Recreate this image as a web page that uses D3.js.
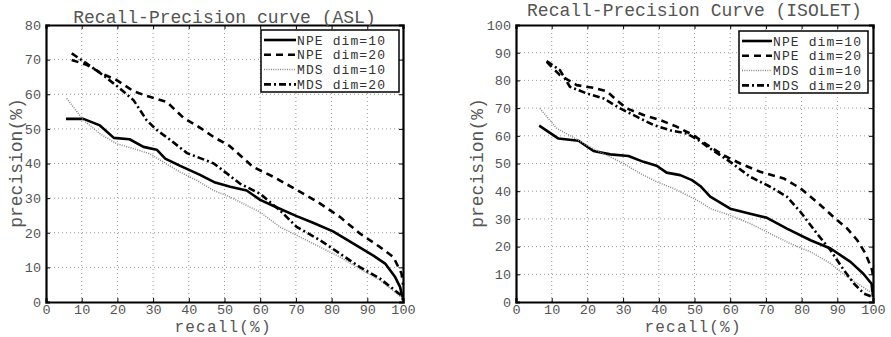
<!DOCTYPE html>
<html><head><meta charset="utf-8">
<script src="https://cdn.jsdelivr.net/npm/d3@7"></script>
<style>body{margin:0;background:#fff}svg{display:block}</style>
</head><body>
<svg id="c" width="891" height="337"></svg>
<script>
const seriesNames = ["NPE dim=10", "NPE dim=20", "MDS dim=10", "MDS dim=20"];
const xTicks = [0,10,20,30,40,50,60,70,80,90,100];
const aslYTicks = [0,10,20,30,40,50,60,70,80];
const isoYTicks = [0,10,20,30,40,50,60,70,80,90,100];

// ASL
const aslNpe10 = [[5.6,52.9],[10.5,52.9],[15.1,51],[19,47.4],[23.4,47],[27.3,44.8],[31,44],[33.4,41.4],[37.6,39.3],[43,36.8],[47.4,34.5],[51.6,33.3],[56.2,32.2],[60,29.5],[63.6,27.8],[70.2,24.8],[74.8,22.9],[80.4,20.4],[86,16.9],[91.7,13.4],[95,11.1],[97.8,7.2],[99.2,4.3],[100,0.5]];
const aslNpe20 = [[7.2,69.9],[11.4,68.5],[16,65.8],[19.8,64.1],[24.5,60.9],[28.2,59.5],[30.6,58.8],[33.8,57.8],[38.5,53.2],[43.2,50.3],[46.9,47.7],[51.5,45],[58,39],[63.6,36.2],[70.2,32.4],[76.7,28.5],[82.3,24.6],[87.9,19.8],[93.5,15.9],[97.3,13],[99.6,8.2],[100,5]];
const aslMds10 = [[5.8,58.8],[10.5,52.5],[15.1,48.6],[19.8,45.7],[24.5,44.3],[29.1,42.8],[32.9,40.4],[37.6,37.5],[42.3,35.1],[47,32.2],[51.6,30.3],[54.3,28.9],[59.9,26],[65.5,21.7],[71.1,18.8],[76.7,15.9],[82.3,13],[87.9,9.6],[93.5,6.3],[100,1]];
const aslMds20 = [[7.2,71.8],[11.4,68.9],[16,65.5],[20.7,61.7],[24.5,58.3],[28.2,52.5],[31,49.7],[34.8,46.8],[39.5,43],[44.1,41.2],[47,40],[50.7,37.1],[54.3,34.2],[59.9,31.3],[65.5,26.5],[70.2,21.7],[76.7,17.9],[82.3,14],[87.9,10.1],[93.5,6.8],[100,1.5]];

// ISOLET
const isoNpe10 = [[6.5,63.7],[11.9,59],[17.5,58.2],[21.7,54.5],[26.4,53.3],[31.5,52.7],[35.7,50.6],[39.4,49.2],[42.2,46.7],[46,45.8],[49.3,44],[51.6,41.9],[54.4,38],[60,33.7],[65.6,31.9],[70.3,30.4],[75.9,26.5],[82.5,22.3],[88.1,19.3],[93.7,14.5],[97.3,10.2],[99.6,6.6],[100,1.8]];
const isoNpe20 = [[8.6,86.7],[12.3,81.9],[17,78.3],[21.7,77.3],[25.4,76.1],[28.2,72.9],[31,69.9],[35.7,67.5],[40.4,65.7],[45,63.3],[49.7,60.2],[54.4,56],[58.1,53],[62.8,50],[68.4,47],[75,44.6],[79.7,41],[84.3,36.1],[90,29.5],[92.8,26.5],[95.6,22.3],[97.9,17.5],[99.8,11.4],[100,9]];
const isoMds10 = [[6.7,69.9],[11.4,62.7],[16.1,59.4],[20.7,56],[25.4,53],[30.1,50],[34.8,46.4],[39.4,43.4],[44.1,41],[48.8,38],[51.6,36.1],[54.4,33.7],[60,31.3],[65.6,28.3],[71.2,24.7],[76.8,21.1],[82.5,18.1],[88.1,13.9],[92.8,9],[96.5,6],[100,3]];
const isoMds20 = [[8.6,87],[12.3,83.7],[15.1,77.7],[19.8,75.3],[24.5,73.5],[29.2,69.9],[33.8,66.9],[38.5,63.9],[43.2,62],[47.9,60.8],[51.1,58.4],[54.4,55.4],[60,50.6],[65.6,45.2],[71.2,41.6],[75.9,38],[79.7,32.5],[84.3,24.7],[88.1,18.7],[91.9,11.4],[94.7,6.6],[97.5,3],[100,1.8]];

const styles = [
  {stroke:"#000", width:2.6, dash:null},
  {stroke:"#000", width:2.6, dash:"7,5"},
  {stroke:"#888", width:1.5, dash:"1,1.3"},
  {stroke:"#000", width:2.6, dash:"7,3,2,3"}
];

const svg = d3.select("#c");
const FONT = '"Liberation Mono","Courier New",Cousine,"DejaVu Sans Mono",monospace';

function drawChart(cfg){
  const g = svg.append("g");
  const x = d3.scaleLinear().domain([0,100]).range([cfg.x0, cfg.x1]);
  const y = d3.scaleLinear().domain([0,cfg.yMax]).range([302, 25]);
  // grid
  g.append("g").selectAll("line").data(xTicks.slice(1,-1)).join("line")
    .attr("x1",d=>x(d)).attr("x2",d=>x(d)).attr("y1",y(0)).attr("y2",y(cfg.yMax))
    .attr("stroke","#999").attr("stroke-width",1).attr("stroke-dasharray","1,3");
  g.append("g").selectAll("line").data(cfg.yTicks.slice(1,-1)).join("line")
    .attr("y1",d=>y(d)).attr("y2",d=>y(d)).attr("x1",x(0)).attr("x2",x(100))
    .attr("stroke","#999").attr("stroke-width",1).attr("stroke-dasharray","1,3");
  // axes
  const ax = g.append("g").attr("transform",`translate(0,${y(0)})`)
    .call(d3.axisBottom(x).tickValues(xTicks).tickSize(-4).tickPadding(3));
  const ay = g.append("g").attr("transform",`translate(${x(0)},0)`)
    .call(d3.axisLeft(y).tickValues(cfg.yTicks).tickSize(-4).tickPadding(5));
  const at = g.append("g").attr("transform",`translate(0,${y(cfg.yMax)})`)
    .call(d3.axisTop(x).tickValues(xTicks).tickSize(-4).tickFormat(""));
  const ar = g.append("g").attr("transform",`translate(${x(100)},0)`)
    .call(d3.axisRight(y).tickValues(cfg.yTicks).tickSize(-4).tickFormat(""));
  [ax,ay,at,ar].forEach(a=>{
    a.attr("font-family",FONT);
    a.select(".domain").attr("stroke","#000").attr("stroke-width",2.2);
    a.selectAll(".tick line").attr("stroke","#000").attr("stroke-width",1);
    a.selectAll("text").style("font-family",FONT).attr("font-size",13.5).attr("fill","#555");
  });
  ax.selectAll("text").attr("y",2);
  // lines
  const line = d3.line().x(d=>x(d[0])).y(d=>y(d[1]));
  cfg.series.forEach((s,i)=>{
    g.append("path").attr("d",line(s)).attr("fill","none")
      .attr("stroke",styles[i].stroke).attr("stroke-width",styles[i].width)
      .attr("stroke-dasharray",styles[i].dash).attr("stroke-linejoin","round");
  });
  // title
  g.append("text").attr("x",(cfg.x0+cfg.x1)/2).attr("y",cfg.titleY).attr("text-anchor","middle")
    .style("font-family",FONT).attr("font-size",18).attr("fill","#555").text(cfg.title);
  g.append("text").attr("x",(cfg.x0+cfg.x1)/2 - 2).attr("y",332).attr("text-anchor","middle")
    .style("font-family",FONT).attr("font-size",16).attr("fill","#555")
    .attr("textLength",96).attr("lengthAdjust","spacing").text("recall(%)");
  g.append("text").attr("transform",`translate(${cfg.ylabX},163) rotate(-90)`).attr("text-anchor","middle")
    .style("font-family",FONT).attr("font-size",18).attr("fill","#555").text("precision(%)");
  // legend
  const L = cfg.legend;
  g.append("rect").attr("x",L.x).attr("y",L.y).attr("width",L.w).attr("height",L.h)
    .attr("fill","#fff").attr("stroke","#000").attr("stroke-width",1.5);
  seriesNames.forEach((n,i)=>{
    const cy = L.y + 10 + i*14.8;
    g.append("line").attr("x1",L.x+3).attr("x2",L.tx-1).attr("y1",cy).attr("y2",cy)
      .attr("stroke",styles[i].stroke).attr("stroke-width",styles[i].width)
      .attr("stroke-dasharray",styles[i].dash);
    g.append("text").attr("x",L.tx).attr("y",cy+4.5).style("font-family",FONT).attr("font-size",13)
      .attr("textLength",88).attr("lengthAdjust","spacing")
      .attr("fill","#333").text(n);
  });
}

drawChart({x0:46,x1:403,yMax:80,yTicks:aslYTicks,title:"Recall-Precision curve (ASL)",titleY:23,ylabX:22,
  series:[aslNpe10,aslNpe20,aslMds10,aslMds20],legend:{x:261,y:30,w:138,h:62,tx:297}});
drawChart({x0:516,x1:873,yMax:100,yTicks:isoYTicks,title:"Recall-Precision Curve (ISOLET)",titleY:16,ylabX:483,
  series:[isoNpe10,isoNpe20,isoMds10,isoMds20],legend:{x:739,y:31,w:129,h:62,tx:773}});
</script>
</body></html>
